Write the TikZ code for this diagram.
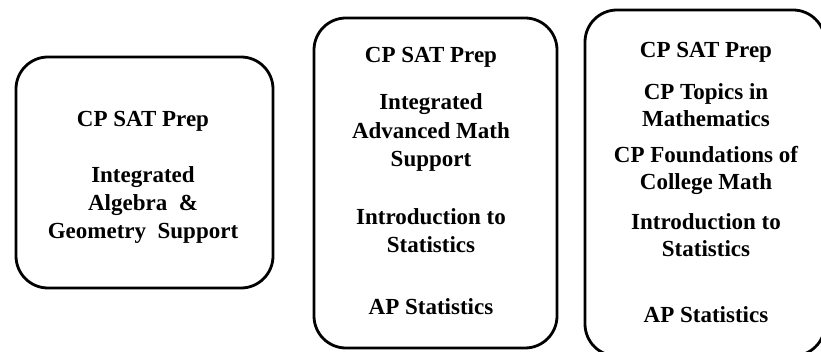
\documentclass[tikz,border=0pt]{standalone}
\usepackage{fontspec}
\setmainfont{Liberation Serif}
\begin{document}
\begin{tikzpicture}[x=1pt,y=-1pt,
  box/.style={draw, line width=2.8pt, rounded corners=32pt, inner sep=0pt},
  lbl/.style={anchor=base, inner sep=0pt, font=\bfseries\fontsize{23}{27}\selectfont}]
\useasboundingbox (0,0) rectangle (821,352);
\clip (0,0) rectangle (821,352);
% boxes
\node[box, minimum width=257pt, minimum height=231pt] (b1) at (144.5,172.5) {};
\node[box, minimum width=243pt, minimum height=330pt] (b2) at (435.5,183) {};
\node[box, minimum width=240pt, minimum height=346pt] (b3) at (705,183) {};
% box 1 text
\node[lbl] (b1a) at (143,127) {CP SAT Prep};
\node[lbl] (b1b) at (143,183) {Integrated};
\node[lbl] (b1c) at (143,211) {Algebra \ \&};
\node[lbl] (b1d) at (143,239) {Geometry \ Support};
% box 2 text
\node[lbl] (b2a) at (431,63) {CP SAT Prep};
\node[lbl] (b2b) at (431,110) {Integrated};
\node[lbl] (b2c) at (431,139) {Advanced Math};
\node[lbl] (b2d) at (431,167) {Support};
\node[lbl] (b2e) at (431,225) {Introduction to};
\node[lbl] (b2f) at (431,253) {Statistics};
\node[lbl] (b2g) at (431,315) {AP Statistics};
% box 3 text
\node[lbl] (b3a) at (706,58) {CP SAT Prep};
\node[lbl] (b3b) at (706,100) {CP Topics in};
\node[lbl] (b3c) at (706,127) {Mathematics};
\node[lbl] (b3d) at (706,163) {CP Foundations of};
\node[lbl] (b3e) at (706,190) {College Math};
\node[lbl] (b3f) at (706,230) {Introduction to};
\node[lbl] (b3g) at (706,257) {Statistics};
\node[lbl] (b3h) at (706,323) {AP Statistics};
\end{tikzpicture}
\end{document}
